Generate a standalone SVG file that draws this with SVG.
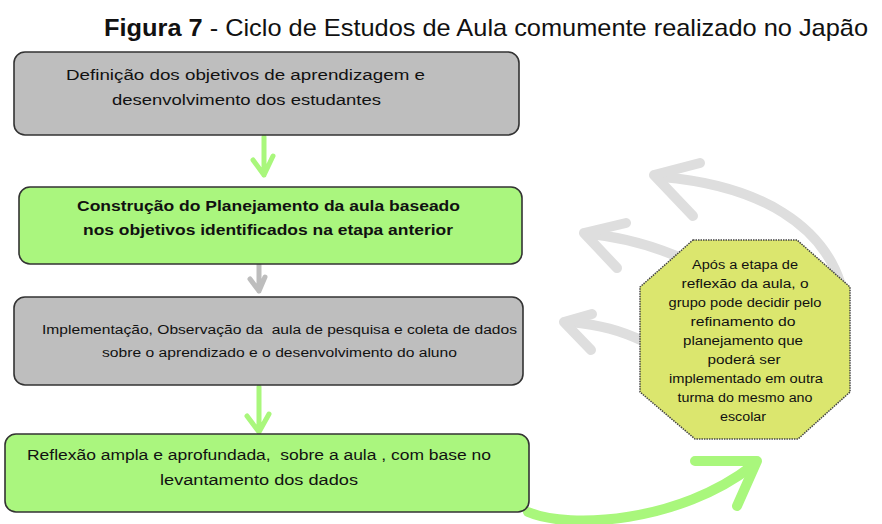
<svg xmlns="http://www.w3.org/2000/svg" width="882" height="524" viewBox="0 0 882 524">
<style>
.box{stroke:#333;stroke-width:1.6}
.gray{fill:#bebebe}
.green{fill:#aaf67e}
.t{font-family:"Liberation Sans",Arial,sans-serif;fill:#111;white-space:pre}
.bt{font-size:14px}
.st{font-size:12.5px}
.ot{font-size:12px;text-anchor:middle}
.ga{fill:none;stroke:#a9f77c;stroke-linecap:round;stroke-linejoin:round}
.la{fill:none;stroke:#dedede;stroke-width:10;stroke-linecap:round;stroke-linejoin:round}
</style>
<rect width="882" height="524" fill="#fff"/>
<text class="t" x="104" y="36" font-size="24" textLength="764" lengthAdjust="spacingAndGlyphs"><tspan font-weight="bold">Figura 7</tspan> - Ciclo de Estudos de Aula comumente realizado no Japão</text>

<g id="connectors">
  <path class="la" d="M840,282 C822,228 765,186 662,177"/>
  <path class="la" d="M654,175 L700,163 M654,175 L693,216"/>
  <path class="la" d="M690,262 C660,248 630,238 590,234"/>
  <path class="la" d="M584,233 L626,223 M584,233 L617,268"/>
  <path class="la" d="M645,342 C620,330 600,325 570,322"/>
  <path class="la" d="M564,322 L592,314 M564,322 L591,350"/>
  <path class="ga" stroke-width="5" d="M264,137 L264,175 M253,160 L264,175 L273,156"/>
  <path fill="none" stroke="#bdbdbd" stroke-width="5" stroke-linecap="round" stroke-linejoin="round" d="M259,265 L259,291 M250,279 L259,291 L265,277"/>
  <path class="ga" stroke-width="5" d="M259,387 L259,432 M247,416 L259,432 L269,414"/>
  <path class="ga" stroke-width="10" d="M528,512 C570,530 680,522 752,466"/>
  <path class="ga" stroke-width="10" d="M695,461 L757,461 L737,506"/>
</g>

<g id="n1">
  <rect class="box gray" x="14" y="52" width="505" height="83" rx="11"/>
  <text class="t bt" x="66" y="80" textLength="359" lengthAdjust="spacingAndGlyphs">Definição dos objetivos de aprendizagem e</text>
  <text class="t bt" x="112" y="105" textLength="269" lengthAdjust="spacingAndGlyphs">desenvolvimento dos estudantes</text>
</g>
<g id="n2">
  <rect class="box green" x="19" y="187" width="503" height="77" rx="11"/>
  <text class="t bt" x="77" y="211" textLength="383" lengthAdjust="spacingAndGlyphs" font-weight="bold">Construção do Planejamento da aula baseado</text>
  <text class="t bt" x="83" y="235" textLength="370" lengthAdjust="spacingAndGlyphs" font-weight="bold">nos objetivos identificados na etapa anterior</text>
</g>
<g id="n3">
  <rect class="box gray" x="14" y="297" width="509" height="88" rx="11"/>
  <text class="t st" x="42" y="334" textLength="475" lengthAdjust="spacingAndGlyphs">Implementação, Observação da  aula de pesquisa e coleta de dados</text>
  <text class="t st" x="102" y="357" textLength="355" lengthAdjust="spacingAndGlyphs">sobre o aprendizado e o desenvolvimento do aluno</text>
</g>
<g id="n4">
  <rect class="box green" x="5" y="434" width="524" height="78" rx="11"/>
  <text class="t bt" x="27" y="460" textLength="464" lengthAdjust="spacingAndGlyphs">Reflexão ampla e aprofundada,  sobre a aula , com base no</text>
  <text class="t bt" x="160" y="485" textLength="198" lengthAdjust="spacingAndGlyphs">levantamento dos dados</text>
</g>
<g id="n5">
  <polygon points="693,240 797,240 850,287 850,392 798,439 695,439 640,392 640,287" fill="#dbe66e" stroke="#444" stroke-width="1.5" stroke-dasharray="1.5,1"/>
  <text class="t ot" x="745" y="269" textLength="106" lengthAdjust="spacingAndGlyphs">Após a etapa de</text>
  <text class="t ot" x="745" y="288" textLength="127" lengthAdjust="spacingAndGlyphs">reflexão da aula, o</text>
  <text class="t ot" x="745" y="307" textLength="153" lengthAdjust="spacingAndGlyphs">grupo pode decidir pelo</text>
  <text class="t ot" x="743" y="326" textLength="105" lengthAdjust="spacingAndGlyphs">refinamento do</text>
  <text class="t ot" x="743" y="345" textLength="120" lengthAdjust="spacingAndGlyphs">planejamento que</text>
  <text class="t ot" x="744" y="364" textLength="73" lengthAdjust="spacingAndGlyphs">poderá ser</text>
  <text class="t ot" x="746" y="383" textLength="154" lengthAdjust="spacingAndGlyphs">implementado em outra</text>
  <text class="t ot" x="745" y="402" textLength="135" lengthAdjust="spacingAndGlyphs">turma do mesmo ano</text>
  <text class="t ot" x="743" y="421" textLength="46" lengthAdjust="spacingAndGlyphs">escolar</text>
</g>
</svg>
